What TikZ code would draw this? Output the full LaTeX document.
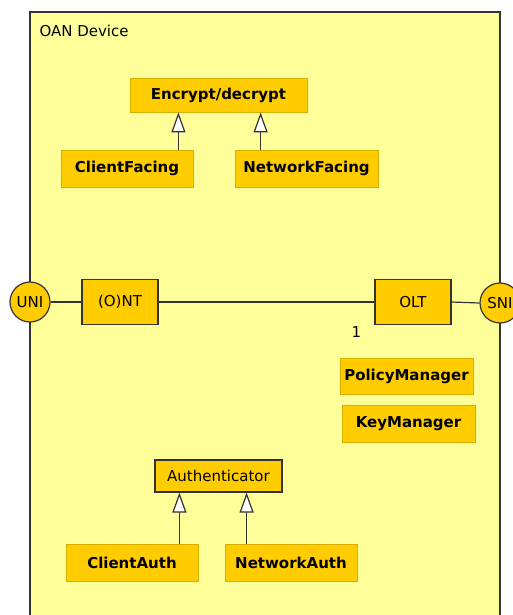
\documentclass[tikz,border=0pt]{standalone}
\usepackage{fontspec}
\setmainfont{DejaVu Sans}
\usetikzlibrary{positioning, calc, arrows.meta}
\definecolor{sfondo}{HTML}{FFFF99}
\definecolor{giallo}{HTML}{FFCC00}
\definecolor{bordo}{HTML}{D9AD00}
\definecolor{linea}{HTML}{333333}
\tikzset{
    classe/.style={fill=giallo, draw=bordo, line width=0.8pt, font=\fontsize{15}{17}\selectfont\bfseries, inner sep=0pt},
    blocco/.style={fill=giallo, draw=linea, line width=1.2pt, font=\fontsize{15}{17}\selectfont, inner sep=0pt},
    porta/.style={circle, fill=giallo, draw=linea, line width=1.2pt, minimum size=40pt, inner sep=0pt, font=\fontsize{15}{17}\selectfont},
    eredita/.style={draw=linea, line width=1.2pt, -{Triangle[length=20pt, width=14pt, fill=white]}},
    filo/.style={draw=linea, line width=1.2pt}
}
\begin{document}
\begin{tikzpicture}[x=1pt, y=-1pt]
        \clip (0,0) rectangle (513,615);
        %contenitore
        \draw[linea, line width=1.2pt, fill=sfondo] (30,12) rectangle (500,640);
        \node[anchor=west, font=\fontsize{15}{17}\selectfont] (titolo) at (36,31) {OAN Device};
        %cifratura
        \node[classe, minimum width=177pt, minimum height=34pt] (encdec) at (218.5,95) {Encrypt/decrypt};
        \node[classe, minimum width=132pt, minimum height=37pt] (cfacing) at (127,168.5) {ClientFacing};
        \node[classe, minimum width=143pt, minimum height=37pt] (nfacing) at (306.5,168.5) {NetworkFacing};
        \draw[eredita] ([xshift=-15pt]cfacing.north east) -- ([xshift=-15pt]cfacing.north east |- encdec.south);
        \draw[eredita] ([xshift=26pt]nfacing.north west) -- ([xshift=26pt]nfacing.north west |- encdec.south);
        %linea di accesso
        \node[porta] (uni) at (30,302) {UNI};
        \node[blocco, minimum width=76pt, minimum height=45pt] (ont) at (120,302) {(O)NT};
        \node[blocco, minimum width=76pt, minimum height=45pt] (olt) at (413,302) {OLT};
        \node[porta] (sni) at (500,303) {SNI};
        \node[font=\fontsize{15}{17}\selectfont] (molt) at ([xshift=-18pt, yshift=-7pt]olt.south west) {1};
        \draw[filo] (uni.east) -- (ont.west);
        \draw[filo] (ont.east) -- (olt.west);
        \draw[filo] (olt.east) -- (sni.west);
        %gestori
        \node[classe, minimum width=133pt, minimum height=36pt] (policy) at (406.5,376) {PolicyManager};
        \node[classe, minimum width=133pt, minimum height=37pt] (keymgr) at (408.5,423.5) {KeyManager};
        %autenticazione
        \node[blocco, minimum width=127pt, minimum height=32pt] (auth) at (218.5,476) {Authenticator};
        \node[classe, minimum width=132pt, minimum height=37pt] (cauth) at (132,563) {ClientAuth};
        \node[classe, minimum width=132pt, minimum height=37pt] (nauth) at (291,563) {NetworkAuth};
        \draw[eredita] ([xshift=-19pt]cauth.north east) -- ([xshift=-19pt]cauth.north east |- auth.south);
        \draw[eredita] ([xshift=22pt]nauth.north west) -- ([xshift=22pt]nauth.north west |- auth.south);
    \end{tikzpicture}
\end{document}
